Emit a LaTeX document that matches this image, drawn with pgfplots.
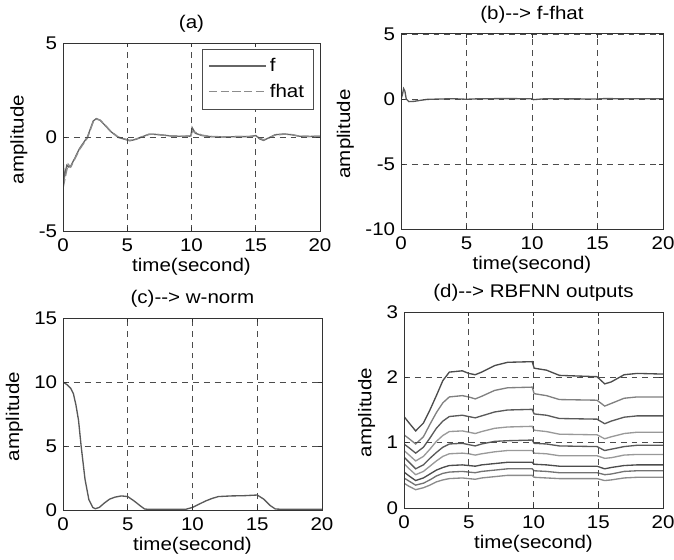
\documentclass[border=0pt]{standalone}
\usepackage{fontspec}
\setmainfont{Liberation Sans}[FakeStretch=1.12]
\usepackage{pgfplots}
\pgfplotsset{compat=1.18}
\usepackage{pgfplotstable}

% RBFNN outputs, panel (d)
\pgfplotstableread{
t     c1   c2   c3   c4   c5   c6   c7   c8   c9
0     1.40 1.12 0.98 0.88 0.78 0.68 0.55 0.46 0.38
0.4   1.30 1.06 0.92 0.81 0.70 0.60 0.49 0.41 0.33
0.9   1.18 0.98 0.84 0.72 0.60 0.51 0.42 0.35 0.28
1.5   1.30 1.09 0.93 0.79 0.66 0.56 0.46 0.38 0.31
2.0   1.50 1.28 1.07 0.90 0.76 0.64 0.52 0.43 0.35
2.5   1.72 1.46 1.22 1.02 0.85 0.72 0.58 0.49 0.40
3.0   1.95 1.61 1.33 1.11 0.93 0.79 0.62 0.53 0.43
3.5   2.08 1.70 1.40 1.17 0.98 0.83 0.65 0.55 0.45
4.5   2.10 1.72 1.42 1.18 0.99 0.84 0.66 0.56 0.46
5.0   2.06 1.70 1.40 1.16 0.97 0.83 0.65 0.55 0.45
5.5   2.04 1.67 1.38 1.14 0.95 0.81 0.64 0.54 0.44
6.0   2.08 1.71 1.41 1.17 0.98 0.83 0.66 0.56 0.46
7.0   2.18 1.80 1.47 1.22 1.02 0.86 0.68 0.58 0.48
8.0   2.23 1.84 1.50 1.24 1.03 0.88 0.70 0.60 0.50
9.9   2.24 1.85 1.51 1.25 1.04 0.88 0.70 0.60 0.50
10.05 2.14 1.75 1.44 1.19 0.99 0.84 0.67 0.57 0.47
11.0  2.11 1.72 1.42 1.17 0.98 0.83 0.66 0.56 0.46
12.0  2.03 1.66 1.37 1.13 0.95 0.80 0.64 0.54 0.45
14.9  2.01 1.65 1.36 1.12 0.94 0.80 0.64 0.54 0.45
15.5  1.90 1.56 1.29 1.06 0.88 0.76 0.60 0.51 0.42
16.0  1.93 1.60 1.33 1.09 0.90 0.77 0.62 0.52 0.43
17.0  2.04 1.68 1.39 1.14 0.94 0.81 0.65 0.56 0.46
18.0  2.06 1.70 1.41 1.16 0.96 0.82 0.66 0.57 0.47
20.0  2.05 1.70 1.41 1.16 0.96 0.82 0.66 0.57 0.47
}\rbfnn

\pgfplotsset{
  mlab/.style={
    scale only axis, anchor=south west,
    xmin=0, xmax=20, xtick={0,5,10,15,20},
    axis line style={black!80, line width=0.6pt},
    tick align=inside, major tick length=2.4pt,
    tick style={black!80, line width=0.5pt},
    grid=major,
    major grid style={black!70, line width=0.5pt, dash pattern=on 3.5pt off 3pt},
    axis on top,
    /pgf/number format/assume math mode=true,
    tick label style={font=\fontsize{11}{13}\selectfont},
    xticklabel shift=1pt,
    label style={font=\fontsize{11}{13}\selectfont},
    xlabel style={yshift=3pt},
    ylabel style={xshift=-1.5pt},
    title style={font=\fontsize{11}{13}\selectfont, yshift=-3pt},
    xlabel={time(second)}, ylabel={amplitude},
    every axis plot/.append style={line width=0.8pt},
  }
}

\begin{document}
\begin{tikzpicture}
\path[use as bounding box] (0,0) rectangle (404.4pt,335.4pt);

% (a)
\begin{axis}[mlab, at={(37.8pt,196.8pt)}, width=154.2pt, height=112.8pt,
  ymin=-5, ymax=5, ytick={-5,0,5}, title={(a)},
  legend style={at={(0.975,0.97)}, anchor=north east, draw=black!70,
    font=\fontsize{11}{13}\selectfont, row sep=2pt, inner sep=3.5pt},
  legend cell align=left,
  legend image code/.code={\draw[#1] (0pt,0pt) -- (34pt,0pt);},
]
\addplot[black!60, solid] coordinates {(0,-1.2)(0.1,-2.2)(0.2,-1.8)(0.3,-1.5)(0.45,-1.6)(0.6,-1.55)(0.9,-1.15)(1.3,-0.6)(1.9,0.0)(2.35,0.85)(2.6,0.98)(2.9,0.88)(3.3,0.6)(3.7,0.3)(4.3,-0.02)(4.8,-0.12)(5.2,-0.2)(5.7,-0.12)(6.2,0.02)(6.7,0.15)(7.2,0.14)(7.8,0.1)(8.5,0.05)(9.2,0.04)(9.95,0.05)(10.05,0.5)(10.3,0.2)(10.8,0.08)(11.5,0.02)(12.5,0.0)(13.5,0.02)(14.5,0.02)(15.0,0.08)(15.3,-0.1)(15.6,-0.18)(16.0,-0.05)(16.5,0.12)(17.2,0.16)(17.8,0.12)(18.4,0.04)(19.2,0.03)(20,0.04)};
\addplot[black!45, dash pattern=on 5pt off 2pt] coordinates {(0,-1.5)(0.1,-2.4)(0.25,-1.9)(0.4,-1.45)(0.6,-1.6)(0.9,-1.2)(1.3,-0.65)(1.9,-0.05)(2.35,0.8)(2.6,0.95)(2.9,0.9)(3.3,0.62)(3.7,0.32)(4.3,0.0)(4.8,-0.1)(5.2,-0.18)(5.7,-0.1)(6.2,0.03)(6.7,0.14)(7.2,0.15)(7.8,0.1)(8.5,0.05)(9.2,0.04)(9.95,0.04)(10.05,0.3)(10.3,0.25)(10.8,0.1)(11.5,0.03)(12.5,0.01)(13.5,0.02)(14.5,0.03)(15.0,0.05)(15.3,-0.05)(15.6,-0.15)(16.0,-0.06)(16.5,0.1)(17.2,0.15)(17.8,0.13)(18.4,0.05)(19.2,0.03)(20,0.04)};
\legend{f, fhat}
\end{axis}

% (b)
\begin{axis}[mlab, at={(240.6pt,198pt)}, width=157.2pt, height=117pt,
  ymin=-10, ymax=5, ytick={-10,-5,0,5}, title={(b)-{}-> f-fhat}]
\addplot[black!65] coordinates {(0,0)(0.1,0.3)(0.2,0.8)(0.3,0.6)(0.4,0.0)(0.6,-0.2)(1.0,-0.18)(1.5,-0.1)(2.0,-0.03)(3,0.0)(4,0.02)(5,-0.02)(6,0.02)(8,0.03)(10,0.02)(10.1,-0.05)(11,0.02)(13,0.01)(15,0.0)(15.5,0.03)(17,0.02)(20,0.02)};
\end{axis}

% (c)
\begin{axis}[mlab, at={(37.8pt,29.4pt)}, width=155.4pt, height=115.2pt,
  ymin=0, ymax=15, ytick={0,5,10,15}, title={(c)-{}-> w-norm}]
\addplot[black!65] coordinates {(0,10.0)(0.3,9.8)(0.6,9.5)(0.8,9.1)(1.0,8.2)(1.2,7.0)(1.4,5.0)(1.7,2.4)(2.0,0.8)(2.3,0.2)(2.5,0.1)(2.8,0.2)(3.2,0.55)(3.6,0.85)(4.0,1.0)(4.5,1.1)(5.0,1.05)(5.5,0.7)(6.0,0.3)(6.3,0.08)(6.6,0.05)(8,0.05)(9.5,0.06)(10,0.2)(10.5,0.45)(11,0.7)(11.5,0.9)(12,1.05)(13,1.1)(14,1.12)(15,1.17)(15.5,0.85)(16,0.35)(16.4,0.08)(17,0.05)(20,0.05)};
\end{axis}

% (d)
\begin{axis}[mlab, at={(242.4pt,30.6pt)}, width=155.4pt, height=117.6pt,
  ymin=0, ymax=3, ytick={0,1,2,3}, title={(d)-{}-> RBFNN outputs}]
\addplot[black!70] table[x=t, y=c1] {\rbfnn};
\addplot[black!50] table[x=t, y=c2] {\rbfnn};
\addplot[black!65] table[x=t, y=c3] {\rbfnn};
\addplot[black!40] table[x=t, y=c4] {\rbfnn};
\addplot[black!65] table[x=t, y=c5] {\rbfnn};
\addplot[black!40] table[x=t, y=c6] {\rbfnn};
\addplot[black!70] table[x=t, y=c7] {\rbfnn};
\addplot[black!55] table[x=t, y=c8] {\rbfnn};
\addplot[black!45] table[x=t, y=c9] {\rbfnn};
\end{axis}
\end{tikzpicture}
\end{document}
